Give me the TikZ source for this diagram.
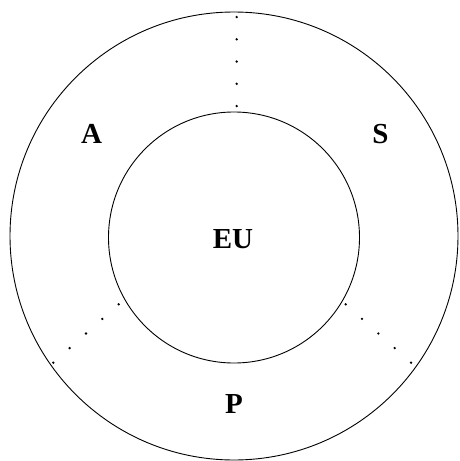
\documentclass[tikz,border=0pt]{standalone}
\usepackage{fontspec}
\setmainfont{Liberation Serif}
\usetikzlibrary{positioning}

\begin{document}
\begin{tikzpicture}[x=1pt,y=-1pt,
  ring/.style={draw,circle,inner sep=0pt,line width=0.9pt},
  lbl/.style={anchor=base,inner sep=0pt,font=\fontsize{29}{30}\selectfont\bfseries},
  dotmark/.style={fill,circle,inner sep=0pt,minimum size=2.6pt}
]
\useasboundingbox (0,0) rectangle (460,461);
\node[ring,minimum size=448pt] (outer) at (234,236) {};
\node[ring,minimum size=251pt] (inner) at (234,237.5) {};
\node[lbl] (eu) at (233,248.5) {EU};
\node[lbl] (a) at (91.5,143) {A};
\node[lbl] (s) at (380.5,143) {S};
\node[lbl] (p) at (234,413) {P};
% dotted separators
\foreach \i in {0,...,4} {
  \node[dotmark] (top\i) at (236.7,17+22.25*\i) {};
  \node[dotmark] (left\i) at (118.7-16.35*\i,304.3+14.6*\i) {};
  \node[dotmark] (right\i) at (345.7+16.33*\i,304.3+14.6*\i) {};
}
\end{tikzpicture}
\end{document}
